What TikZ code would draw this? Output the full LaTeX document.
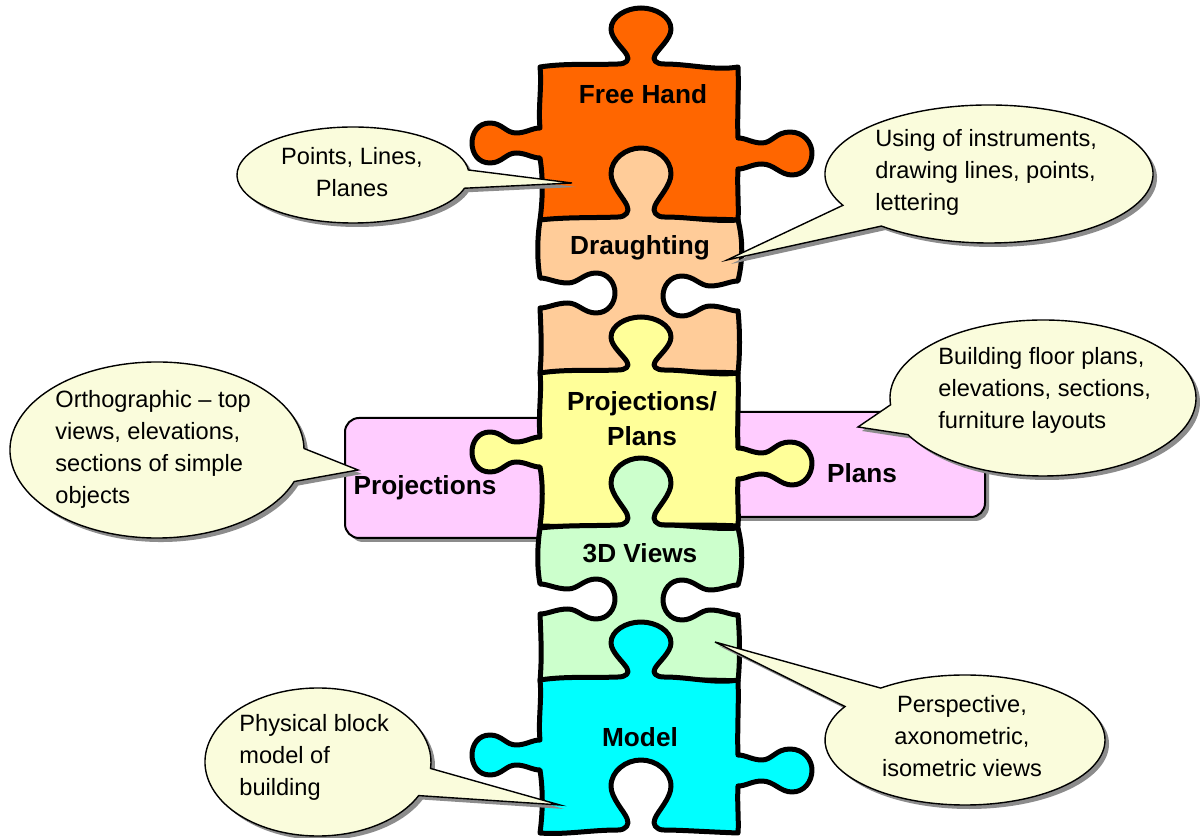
\documentclass[tikz,border=0pt]{standalone}
\usepackage{fontspec}
\setmainfont{Liberation Sans}
\definecolor{cFree}{HTML}{FF6600}
\definecolor{cDraught}{HTML}{FFCC99}
\definecolor{cProj}{HTML}{FFFF99}
\definecolor{cViews}{HTML}{CCFFCC}
\definecolor{cModel}{HTML}{00FFFF}
\definecolor{cPink}{HTML}{FFCCFF}
\definecolor{cBubble}{HTML}{FAFCDC}
\definecolor{cShadow}{HTML}{8C8C8C}
% tab on the top edge, depth #1 (local px, y down)
\newcommand\TopTab[1]{ .. controls (86,-3) and (90,{-0.12*#1}) .. (87,{-0.2*#1})
 .. controls (84,{-0.3*#1}) and (71,{-0.48*#1}) .. (71,{-0.64*#1})
 .. controls (71,{-0.85*#1}) and (86,-#1) .. (101,-#1)
 .. controls (116,-#1) and (131,{-0.85*#1}) .. (131,{-0.64*#1})
 .. controls (131,{-0.48*#1}) and (118,{-0.3*#1}) .. (115,{-0.2*#1})
 .. controls (112,{-0.12*#1}) and (116,-3) .. (124,-3)}
% hole in the bottom edge, depth #1 (path runs right to left)
\newcommand\BotHole[1]{ .. controls (116,150) and (112,{153-0.12*#1}) .. (115,{153-0.2*#1})
 .. controls (118,{153-0.3*#1}) and (131,{153-0.48*#1}) .. (131,{153-0.64*#1})
 .. controls (131,{153-0.85*#1}) and (116,153-#1) .. (101,153-#1)
 .. controls (86,153-#1) and (71,{153-0.85*#1}) .. (71,{153-0.64*#1})
 .. controls (71,{153-0.48*#1}) and (84,{153-0.3*#1}) .. (87,{153-0.2*#1})
 .. controls (90,{153-0.12*#1}) and (86,150) .. (78,150)}
% tab on the right edge, centre #1 (path runs down)
\newcommand\RightTab[1]{ .. controls (206,#1-15) and (212,#1-10) .. (222,#1-10)
 .. controls (232,#1-10) and (236,#1-21) .. (250,#1-21)
 .. controls (264,#1-21) and (272,#1-10) .. (272,#1)
 .. controls (272,#1+12) and (264,#1+22) .. (252,#1+22)
 .. controls (240,#1+22) and (234,#1+11) .. (222,#1+11)
 .. controls (212,#1+11) and (206,#1+16) .. (198,#1+16)}
% tab on the left edge, centre #1 (path runs up)
\newcommand\LeftTab[1]{ .. controls (-8,#1+15) and (-14,#1+10) .. (-24,#1+10)
 .. controls (-34,#1+10) and (-38,#1+20) .. (-50,#1+20)
 .. controls (-62,#1+20) and (-68,#1+10) .. (-68,#1)
 .. controls (-68,#1-10) and (-62,#1-20) .. (-50,#1-20)
 .. controls (-38,#1-20) and (-34,#1-10) .. (-24,#1-10)
 .. controls (-14,#1-10) and (-8,#1-15) .. (0,#1-15)}
% hole in the left edge (path runs up)
\newcommand\LeftHole[1]{ .. controls (8,#1+15) and (16,#1+10) .. (28,#1+10)
 .. controls (38,#1+10) and (44,#1+20) .. (56,#1+20)
 .. controls (68,#1+20) and (75,#1+10) .. (75,#1)
 .. controls (75,#1-10) and (68,#1-20) .. (56,#1-20)
 .. controls (44,#1-20) and (38,#1-10) .. (28,#1-10)
 .. controls (16,#1-10) and (8,#1-15) .. (0,#1-15)}
% hole in the right edge (path runs down)
\newcommand\RightHole[1]{ .. controls (190,#1-15) and (182,#1-10) .. (170,#1-10)
 .. controls (160,#1-10) and (154,#1-20) .. (142,#1-20)
 .. controls (130,#1-20) and (123,#1-10) .. (123,#1)
 .. controls (123,#1+10) and (130,#1+20) .. (142,#1+20)
 .. controls (154,#1+20) and (160,#1+10) .. (170,#1+10)
 .. controls (182,#1+10) and (190,#1+15) .. (198,#1+15)}
% speech bubble: cx cy rx ry start end tip
\newcommand\bub[7]{(#1,#2) ++(#5:#3 and #4) arc[start angle=#5, end angle=#6, x radius=#3, y radius=#4] -- (#7) -- cycle}
\begin{document}
\begin{tikzpicture}[x=0.5pt,y=-0.5pt,
  piece/.style={draw=black, line width=2.5pt, line join=round},
  box/.style={fill=cPink, draw=black, line width=1pt, rounded corners=7pt},
  boxshadow/.style={fill=cShadow, rounded corners=7pt},
  bubble/.style={fill=cBubble, draw=black, line width=0.7pt, line join=miter},
  bshadow/.style={fill=cShadow},
  plabel/.style={font=\fontsize{13.1}{17.5}\selectfont\bfseries, align=center, inner sep=0pt},
  btext/.style={font=\fontsize{11.8}{16}\selectfont, inner sep=0pt}]
\useasboundingbox (0,0) rectangle (1200,838);
\fill[white] (0,0) rectangle (1200,838);

% side boxes
\fill[boxshadow] (349,422) rectangle (564,542);
\draw[box] (345,418) rectangle (560,538);
\fill[boxshadow] (724,416) rectangle (989,521);
\draw[box] (720,412) rectangle (985,517);

% Free Hand
\begin{scope}[shift={(540,67)}]
\path[piece, fill=cFree] (0,0) .. controls (25,-4) and (55,-2) .. (78,-3) \TopTab{59}
 .. controls (150,-3) and (175,4) .. (198,0)
 .. controls (199,25) and (197,50) .. (198,71) \RightTab{86}
 .. controls (197,120) and (199,140) .. (198,153)
 .. controls (140,150) and (60,155) .. (0,153)
 .. controls (3,130) and (3,110) .. (0,91) \LeftTab{76}
 .. controls (-2,40) and (2,20) .. (0,0) -- cycle;
\end{scope}

% Draughting
\begin{scope}[shift={(540,220)}]
\path[piece, fill=cDraught] (0,0) .. controls (25,-3) and (55,-2) .. (78,-3) \TopTab{72}
 .. controls (150,-3) and (175,2) .. (198,0)
 .. controls (203,20) and (203,40) .. (198,61) \RightHole{76}
 .. controls (200,110) and (200,135) .. (198,153)
 .. controls (140,150) and (60,155) .. (0,153)
 .. controls (2,130) and (1,110) .. (0,88) \LeftHole{73}
 .. controls (-3,40) and (-3,20) .. (0,0) -- cycle;
\end{scope}

% Projections / Plans
\begin{scope}[shift={(540,373)}]
\path[piece, fill=cProj] (0,0) .. controls (25,-4) and (55,-2) .. (78,-3) \TopTab{56}
 .. controls (150,-3) and (175,3) .. (198,0)
 .. controls (199,25) and (197,50) .. (198,75) \RightTab{90}
 .. controls (197,125) and (199,140) .. (198,153)
 .. controls (140,150) and (60,155) .. (0,153)
 .. controls (3,130) and (3,110) .. (0,94) \LeftTab{79}
 .. controls (-2,40) and (2,20) .. (0,0) -- cycle;
\end{scope}

% 3D Views
\begin{scope}[shift={(540,528)}]
\path[piece, fill=cViews] (0,0) .. controls (25,-3) and (55,-2) .. (78,-3) \TopTab{70}
 .. controls (150,-3) and (175,2) .. (198,0)
 .. controls (203,20) and (203,40) .. (198,57) \RightHole{72}
 .. controls (200,110) and (200,135) .. (198,153)
 .. controls (140,150) and (60,155) .. (0,153)
 .. controls (2,130) and (1,110) .. (0,86) \LeftHole{71}
 .. controls (-3,40) and (-3,20) .. (0,0) -- cycle;
\end{scope}

% Model
\begin{scope}[shift={(540,680)}]
\path[piece, fill=cModel] (0,0) .. controls (25,-4) and (55,-2) .. (78,-3) \TopTab{58}
 .. controls (150,-3) and (175,4) .. (198,0)
 .. controls (199,25) and (197,50) .. (198,75) \RightTab{90}
 .. controls (197,125) and (199,140) .. (198,153)
 .. controls (170,152) and (140,150) .. (124,150) \BotHole{73}
 .. controls (50,150) and (25,155) .. (0,153)
 .. controls (3,130) and (3,110) .. (0,90) \LeftTab{75}
 .. controls (-2,40) and (2,20) .. (0,0) -- cycle;
\end{scope}

% piece and box labels
\node[plabel] (free) at (643,94) {Free Hand};
\node[plabel] (draught) at (640,248) {Draughting};
\node[plabel] (pp) at (642,419) {Projections/\\Plans};
\node[plabel] (views) at (640,553) {3D Views};
\node[plabel] (model) at (640,737) {Model};
\node[plabel] (proj) at (425,488) {Projections};
\node[plabel] (plans) at (862,473) {Plans};

% bubble tips
\coordinate (tip1) at (572,183);
\coordinate (tip2) at (727,260);
\coordinate (tip3) at (358,470);
\coordinate (tip4) at (858,427);
\coordinate (tip5) at (715,642);
\coordinate (tip6) at (560,805);

% bubble shadows
\begin{scope}[transform canvas={xshift=2pt, yshift=-2pt}]
\fill[bshadow] \bub{353}{175}{116}{48}{16}{354}{tip1};
\fill[bshadow] \bub{989}{174}{164}{69}{153}{491}{tip2};
\fill[bshadow] \bub{157}{450}{147}{88}{21}{359}{tip3};
\fill[bshadow] \bub{1043}{398}{153}{78}{175}{512}{tip4};
\fill[bshadow] \bub{965}{740}{140}{65}{233}{571}{tip5};
\fill[bshadow] \bub{318}{762}{113}{74}{27}{365}{tip6};
\end{scope}
% bubbles
\path[bubble] \bub{353}{175}{116}{48}{16}{354}{tip1};
\path[bubble] \bub{989}{174}{164}{69}{153}{491}{tip2};
\path[bubble] \bub{157}{450}{147}{88}{21}{359}{tip3};
\path[bubble] \bub{1043}{398}{153}{78}{175}{512}{tip4};
\path[bubble] \bub{965}{740}{140}{65}{233}{571}{tip5};
\path[bubble] \bub{318}{762}{113}{74}{27}{365}{tip6};

% bubble texts
\node[btext, align=center] (b1) at (352,172) {Points, Lines,\\Planes};
\node[btext, align=left, anchor=west] (b2) at (875,172) {Using of instruments,\\drawing lines, points,\\lettering};
\node[btext, align=left, anchor=west] (b3) at (55,449) {Orthographic – top\\views, elevations,\\sections of simple\\objects};
\node[btext, align=left, anchor=west] (b4) at (938,390) {Building floor plans,\\elevations, sections,\\furniture layouts};
\node[btext, align=center] (b5) at (962,736) {Perspective,\\axonometric,\\isometric views};
\node[btext, align=left, anchor=west] (b6) at (239,757) {Physical block\\model of\\building};
\end{tikzpicture}
\end{document}
